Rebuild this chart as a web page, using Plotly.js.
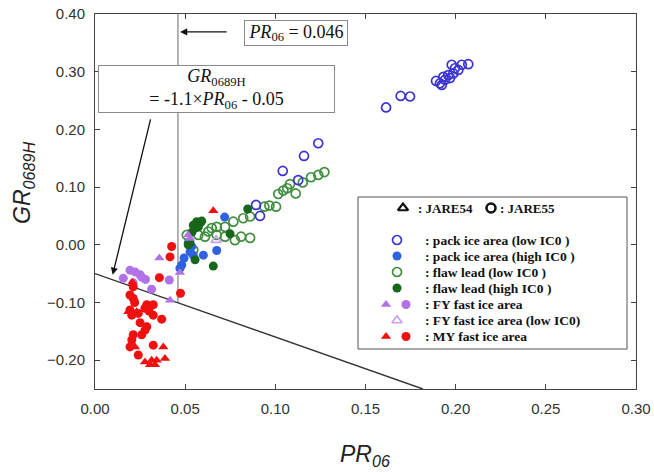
<!DOCTYPE html>
<html>
<head>
<meta charset="utf-8">
<script src="https://cdn.plot.ly/plotly-3.0.1.min.js"></script>
<style>
  html, body { margin: 0; padding: 0; background: #fff; }
  #chart { width: 654px; height: 472px; }
</style>
</head>
<body>
<div id="chart"></div>
<script>
// Threshold and discrimination line
const PR_THRESHOLD = 0.046;
const LINE_SLOPE = -1.1;
const LINE_INTERCEPT = -0.05;

// Axis ranges and ticks
const xRange = [0, 0.30];
const yRange = [-0.25, 0.40];
const xTickVals = [0, 0.05, 0.10, 0.15, 0.20, 0.25, 0.30];
const yTickVals = [-0.20, -0.10, 0.00, 0.10, 0.20, 0.30, 0.40];

// Pack ice area (low IC0), JARE55
const packLowPR = [0.1614, 0.1695, 0.1747, 0.1891, 0.1923, 0.1913, 0.1941, 0.1969, 0.1959, 0.1987, 0.1996, 0.2015, 0.2034, 0.2070, 0.1978, 0.1932, 0.1238, 0.1159, 0.1041, 0.1127, 0.0893, 0.0915];
const packLowGR = [0.238, 0.258, 0.257, 0.284, 0.277, 0.280, 0.286, 0.289, 0.294, 0.297, 0.306, 0.303, 0.312, 0.313, 0.312, 0.291, 0.176, 0.154, 0.128, 0.112, 0.069, 0.050];

// Pack ice area (high IC0), JARE55
const packHighPR = [0.0719, 0.0675, 0.0601, 0.0527, 0.0481, 0.0471, 0.0545, 0.0517, 0.0536, 0.0494];
const packHighGR = [0.048, -0.010, -0.018, -0.012, -0.035, -0.041, -0.018, 0.003, -0.003, -0.023];

// Flaw lead (low IC0), JARE55
const flawLowPR = [0.1272, 0.1238, 0.1198, 0.1152, 0.1081, 0.1066, 0.1044, 0.1016, 0.1113, 0.0967, 0.1004, 0.0939, 0.0822, 0.0860, 0.0767, 0.0721, 0.0675, 0.0647, 0.0610, 0.0675, 0.0721, 0.0776, 0.0810, 0.0860, 0.0573, 0.0545, 0.0509, 0.0628];
const flawLowGR = [0.126, 0.121, 0.117, 0.108, 0.105, 0.098, 0.094, 0.088, 0.089, 0.068, 0.066, 0.066, 0.046, 0.049, 0.040, 0.031, 0.031, 0.029, 0.014, 0.017, 0.014, 0.008, 0.014, 0.012, 0.017, -0.009, 0.017, 0.023];

// Flaw lead (high IC0), JARE55
const flawHighPR = [0.0847, 0.0564, 0.0582, 0.0573, 0.0555, 0.0545, 0.0592, 0.0749, 0.0527, 0.0517, 0.0555, 0.0656, 0.0538];
const flawHighGR = [0.062, 0.040, 0.037, 0.031, 0.029, 0.034, 0.041, 0.019, 0.003, 0.000, -0.026, -0.037, 0.022];

// FY fast ice area: JARE54 (triangles), JARE55 (circles), low IC0 (open triangles)
const fyTriPR = [0.0357, 0.0416, 0.0517, 0.0527, 0.0471];
const fyTriGR = [-0.023, -0.096, 0.017, 0.011, -0.048];
const fyCirPR = [0.0194, 0.0222, 0.0250, 0.0157, 0.0212, 0.0314, 0.0412, 0.0259, 0.0280];
const fyCirGR = [-0.044, -0.047, -0.052, -0.058, -0.066, -0.077, -0.061, -0.056, -0.060];
const fyLowPR = [0.0672];
const fyLowGR = [0.008];

// MY fast ice area: JARE54 (triangles), JARE55 (circles)
const myTriPR = [0.0656, 0.0207, 0.0185, 0.0231, 0.0222, 0.0379, 0.0314, 0.0342, 0.0388, 0.0305, 0.0333, 0.0277];
const myTriGR = [0.059, -0.065, -0.116, -0.116, -0.177, -0.177, -0.200, -0.200, -0.197, -0.208, -0.208, -0.203];
const myCirPR = [0.0425, 0.0416, 0.0357, 0.0474, 0.0212, 0.0194, 0.0212, 0.0287, 0.0277, 0.0323, 0.0194, 0.0204, 0.0240, 0.0323, 0.0370, 0.0287, 0.0277, 0.0212, 0.0259, 0.0204, 0.0323, 0.0240, 0.0194, 0.0220, 0.0250, 0.0300];
const myCirGR = [-0.003, -0.021, -0.057, -0.084, -0.073, -0.087, -0.093, -0.104, -0.110, -0.104, -0.113, -0.122, -0.119, -0.122, -0.129, -0.142, -0.148, -0.156, -0.156, -0.165, -0.174, -0.191, -0.177, -0.100, -0.135, -0.115];

// Legend labels
const legendHeader = [': JARE54', ': JARE55'];
const legendLabels = [
  ': pack ice area (low IC0 )',
  ': pack ice area (high IC0 )',
  ': flaw lead (low IC0 )',
  ': flaw lead (high IC0 )',
  ': FY fast ice area',
  ': FY fast ice area (low IC0)',
  ': MY fast ice area'
];

// Styles
const C = {
  packOpen: '#3b35d0',
  packFill: '#2f62e0',
  flawOpen: '#3f8f3f',
  flawFill: '#17661a',
  fy: '#b072e6',
  fyLow: '#c9a2f2',
  my: '#f01010'
};
const MS = 9;
const serif = 'Liberation Serif, Times New Roman, serif';
const sans = 'Liberation Sans, Arial, Helvetica, sans-serif';

function openMarker(color, symbol) {
  return { symbol: symbol, size: MS, color: color, line: { color: color, width: 1.7 } };
}
function fillMarker(color, symbol) {
  return { symbol: symbol, size: MS, color: color, line: { width: 0 } };
}
function pts(x, y, marker, xa, ya) {
  return { type: 'scatter', mode: 'markers', x: x, y: y, marker: marker,
           xaxis: xa || 'x', yaxis: ya || 'y', showlegend: false, hoverinfo: 'skip' };
}

// Reference lines built from the stated threshold and equation
const lineYAt = x => LINE_SLOPE * x + LINE_INTERCEPT;
const lineXEnd = (yRange[0] - LINE_INTERCEPT) / LINE_SLOPE;

const traces = [
  { type: 'scatter', mode: 'lines', x: [PR_THRESHOLD, PR_THRESHOLD], y: [lineYAt(PR_THRESHOLD), yRange[1]],
    line: { color: '#9a9a9a', width: 1.5 }, showlegend: false, hoverinfo: 'skip' },
  { type: 'scatter', mode: 'lines', x: [0, lineXEnd], y: [lineYAt(0), lineYAt(lineXEnd)],
    line: { color: '#333', width: 1.4 }, showlegend: false, hoverinfo: 'skip' },
  pts(flawLowPR, flawLowGR, openMarker(C.flawOpen, 'circle-open')),
  pts(packLowPR, packLowGR, openMarker(C.packOpen, 'circle-open')),
  pts(fyLowPR, fyLowGR, openMarker(C.fyLow, 'triangle-up-open')),
  pts(packHighPR, packHighGR, fillMarker(C.packFill, 'circle')),
  pts(flawHighPR, flawHighGR, fillMarker(C.flawFill, 'circle')),
  pts(fyCirPR, fyCirGR, fillMarker(C.fy, 'circle')),
  pts(fyTriPR, fyTriGR, fillMarker(C.fy, 'triangle-up')),
  pts(myCirPR, myCirGR, fillMarker(C.my, 'circle')),
  pts(myTriPR, myTriGR, fillMarker(C.my, 'triangle-up'))
];

// Legend key, placed on a hidden overlay axis measured in page pixels
const keyRowsY = [240, 256, 272, 288, 304.5, 320.5, 336.5];
const keyHeaderY = 208;
const keySingleX = 397, keyPairX = [386, 406], keyTextX = 423;
const keyMarkers = [
  [openMarker(C.packOpen, 'circle-open')],
  [fillMarker(C.packFill, 'circle')],
  [openMarker(C.flawOpen, 'circle-open')],
  [fillMarker(C.flawFill, 'circle')],
  [fillMarker(C.fy, 'triangle-up'), fillMarker(C.fy, 'circle')],
  [openMarker(C.fyLow, 'triangle-up-open')],
  [fillMarker(C.my, 'triangle-up'), fillMarker(C.my, 'circle')]
];
keyMarkers.forEach((ms, i) => {
  if (ms.length === 1) {
    traces.push(pts([keySingleX], [keyRowsY[i]], ms[0], 'x2', 'y2'));
  } else {
    ms.forEach((m, j) => traces.push(pts([keyPairX[j]], [keyRowsY[i]], m, 'x2', 'y2')));
  }
});
const hdrTri = { symbol: 'triangle-up-open', size: 9, color: '#111', line: { color: '#111', width: 2.2 } };
const hdrCir = { symbol: 'circle-open', size: 9, color: '#111', line: { color: '#111', width: 2.6 } };
traces.push(pts([403], [keyHeaderY], hdrTri, 'x2', 'y2'));
traces.push(pts([491], [keyHeaderY], hdrCir, 'x2', 'y2'));

const annotations = [];
legendLabels.forEach((t, i) => {
  annotations.push({ xref: 'x2', yref: 'y2', x: keyTextX, y: keyRowsY[i], text: '<b>' + t + '</b>',
    showarrow: false, xanchor: 'left', yanchor: 'middle',
    font: { family: serif, size: 13.5, color: '#111' } });
});
annotations.push({ xref: 'x2', yref: 'y2', x: 416, y: keyHeaderY, text: '<b>' + legendHeader[0] + '</b>',
  showarrow: false, xanchor: 'left', yanchor: 'middle', font: { family: serif, size: 13, color: '#111' } });
annotations.push({ xref: 'x2', yref: 'y2', x: 498, y: keyHeaderY, text: '<b>' + legendHeader[1] + '</b>',
  showarrow: false, xanchor: 'left', yanchor: 'middle', font: { family: serif, size: 13, color: '#111' } });

// Callout boxes with arrows
annotations.push({ xref: 'x', yref: 'y', x: PR_THRESHOLD + 0.0012, y: 0.369,
  axref: 'x', ayref: 'y', ax: 0.0738, ay: 0.369, text: '', showarrow: true,
  arrowhead: 2, arrowsize: 1.1, arrowwidth: 1.3, arrowcolor: '#111' });
annotations.push({ xref: 'x', yref: 'y', x: 0.0098, y: -0.052,
  axref: 'x', ayref: 'y', ax: 0.031, ay: 0.220, text: '', showarrow: true,
  arrowhead: 2, arrowsize: 1.1, arrowwidth: 1.3, arrowcolor: '#111' });
annotations.push({ xref: 'x2', yref: 'y2', x: 296, y: 33,
  text: '<i>PR</i><sub>06</sub> = 0.046', showarrow: false,
  width: 100, height: 22, borderpad: 1, bordercolor: '#8a8a8a', borderwidth: 1, bgcolor: '#fff',
  font: { family: serif, size: 18, color: '#111' } });
annotations.push({ xref: 'x2', yref: 'y2', x: 216.5, y: 89,
  text: '<i>GR</i><sub>0689H</sub><br>= -1.1×<i>PR</i><sub>06</sub> - 0.05', showarrow: false,
  width: 233, height: 44, borderpad: 1, bordercolor: '#8a8a8a', borderwidth: 1, bgcolor: '#fff',
  font: { family: serif, size: 18, color: '#111' } });

// Axis titles (paper coordinates, outside the plotting area)
annotations.push({ xref: 'paper', yref: 'paper', x: 0.499, y: -0.176, text: '<i>PR<sub>06</sub></i>',
  showarrow: false, xanchor: 'center', yanchor: 'middle', font: { family: sans, size: 23, color: '#222' } });
annotations.push({ xref: 'paper', yref: 'paper', x: -0.131, y: 0.55, text: '<i>GR<sub>0689H</sub></i>', textangle: -90,
  showarrow: false, xanchor: 'center', yanchor: 'middle', font: { family: sans, size: 23, color: '#222' } });

const axisCommon = {
  showgrid: false, zeroline: false, showline: true, linecolor: '#444', linewidth: 1,
  mirror: 'ticks', ticks: 'inside', ticklen: 5, tickcolor: '#444', tickwidth: 1,
  tickfont: { family: sans, size: 15, color: '#333' }, tickformat: '.2f', ticklabelstandoff: 6
};

const layout = {
  width: 654, height: 472,
  margin: { l: 95, r: 18, t: 14, b: 83 },
  paper_bgcolor: '#fff', plot_bgcolor: '#fff',
  showlegend: false,
  xaxis: Object.assign({}, axisCommon, { range: xRange, tickvals: xTickVals }),
  yaxis: Object.assign({}, axisCommon, { range: yRange, tickvals: yTickVals }),
  xaxis2: { overlaying: 'x', range: [95, 636], visible: false, fixedrange: true },
  yaxis2: { overlaying: 'y', range: [389, 14], visible: false, fixedrange: true },
  shapes: [
    { type: 'rect', xref: 'x2', yref: 'y2', x0: 358, x1: 627, y0: 197, y1: 349,
      line: { color: '#555', width: 1 }, fillcolor: '#fff', layer: 'below' }
  ],
  annotations: annotations
};

Plotly.newPlot('chart', traces, layout, { staticPlot: true, displayModeBar: false });
</script>
</body>
</html>
